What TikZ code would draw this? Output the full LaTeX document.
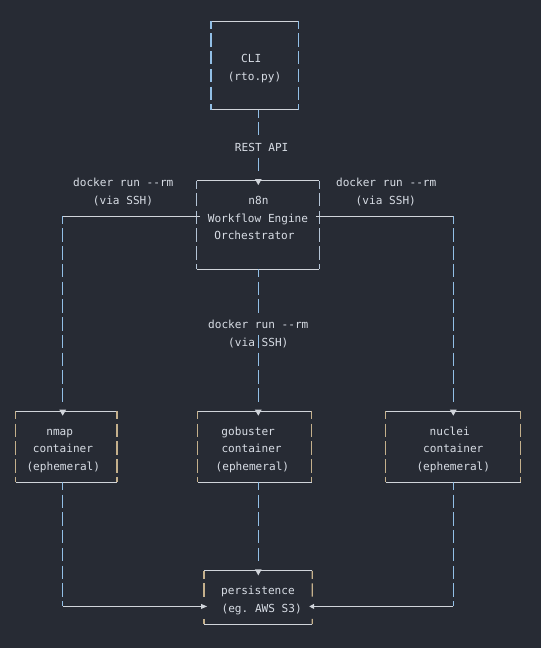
\documentclass[tikz,border=0pt]{standalone}
\usepackage{fontspec}
\setmonofont{DejaVu Sans Mono}
\usetikzlibrary{fit}
\definecolor{bgc}{HTML}{272B34}
\definecolor{tcol}{HTML}{D8DDE5}
\definecolor{hcol}{HTML}{D0D4DA}
\definecolor{vblue}{HTML}{92BFE6}
\definecolor{vgold}{HTML}{C4B08C}
\definecolor{vgrey}{HTML}{B4C4D6}
\newcommand{\RY}[1]{(21+17.74*(#1))}
\newcommand{\downtip}[2]{\fill[tipf] ({#1-3.4},{\RY{#2}-1.6}) -- ({#1+3.4},{\RY{#2}-1.6}) -- ({#1},{\RY{#2}+4.4}) -- cycle;}
\newcommand{\asciibox}[6]{%
  \path (#2,{\RY{#4}}) coordinate (#1nw) (#3,{\RY{#5}}) coordinate (#1se);
  \node[boxn,fit=(#1nw)(#1se)] (#1) {};
  \draw[hline] (#1.north west) -- (#1.north east);
  \draw[hline] (#1.south west) -- (#1.south east);
  \draw[vside=#6] (#1.north west) -- (#1.south west);
  \draw[vside=#6] (#1.north east) -- (#1.south east);
}
\begin{document}
\begin{tikzpicture}[x=1pt,y=-1pt,
  hline/.style={draw=hcol,line width=1pt},
  vside/.style={draw=#1,line width=1.3pt,dash pattern=on 13.4pt off 4.34pt,dash phase=5.4pt},
  vside/.default=vblue,
  tipf/.style={fill=hcol,draw=none},
  txt/.style={text=tcol,font=\ttfamily\fontsize{11.1}{13}\selectfont,anchor=base,inner sep=0pt},
  lbl/.style={txt,fill=bgc,inner ysep=4pt,inner xsep=1pt,text height=8pt,text depth=0pt},
  boxn/.style={inner sep=0pt,outer sep=0pt,draw=none}]
\fill[bgc] (0,0) rectangle (541,648);
\useasboundingbox (0,0) rectangle (541,648);

% columns
\coordinate (colL) at (62.7,0);
\coordinate (colC) at (258.3,0);
\coordinate (colR) at (453.3,0);

% boxes
\asciibox{cli}{211}{298.7}{0}{5}{vblue}
\asciibox{neight}{196.7}{319.3}{9}{14}{vgrey}
\asciibox{nmap}{15.7}{117}{22}{26}{vgold}
\asciibox{gob}{197.7}{311.7}{22}{26}{vgold}
\asciibox{nuc}{385.7}{520.7}{22}{26}{vgold}

% persistence box (sides interrupted by arrows)
\path (204,{\RY{31}}) coordinate (persnw) (312.3,{\RY{34}}) coordinate (persse);
\node[boxn,fit=(persnw)(persse)] (pers) {};
\draw[hline] (pers.north west) -- (pers.north east);
\draw[hline] (pers.south west) -- (pers.south east);
\draw[vside=vgold] (pers.north west) -- (204,{\RY{32}+8});
\draw[vside=vgold] (pers.north east) -- (312.3,{\RY{32}+8});
\draw[draw=vgold,line width=1.3pt] (204,{\RY{34}-5.4}) -- (pers.south west);
\draw[draw=vgold,line width=1.3pt] (312.3,{\RY{34}-5.4}) -- (pers.south east);

% junction coordinates
\coordinate (jl) at (62.7,{\RY{11}});
\coordinate (jr) at (453.3,{\RY{11}});
\coordinate (bl) at (62.7,{\RY{33}});
\coordinate (br) at (453.3,{\RY{33}});
\coordinate (pl) at (201,{\RY{33}});
\coordinate (pr) at (314,{\RY{33}});

% CLI -> n8n
\draw[vside=vblue,shorten >=9.74pt] (cli.south -| colC) -- (neight.north -| colC);
\downtip{258.3}{9}
% n8n -> gobuster
\draw[vside=vblue,shorten >=9.74pt] (neight.south -| colC) -- (gob.north -| colC);
\downtip{258.3}{22}
% n8n -> nmap
\draw[hline] ([xshift=3.4pt]neight.west |- jl) -- (jl);
\draw[vside=vblue,shorten >=9.74pt] (jl) -- (nmap.north -| colL);
\downtip{62.7}{22}
% n8n -> nuclei
\draw[hline] ([xshift=-3.4pt]neight.east |- jr) -- (jr);
\draw[vside=vblue,shorten >=9.74pt] (jr) -- (nuc.north -| colR);
\downtip{453.3}{22}
% gobuster -> persistence
\draw[vside=vblue,shorten >=9.74pt] (gob.south -| colC) -- (pers.north -| colC);
\downtip{258.3}{31}
% nmap -> persistence
\draw[vside=vblue] (nmap.south -| colL) -- (bl);
\draw[hline] (bl) -- (pl);
\fill[tipf] (201,{\RY{33}-2.6}) -- (207,{\RY{33}}) -- (201,{\RY{33}+2.6}) -- cycle;
% nuclei -> persistence
\draw[vside=vblue] (nuc.south -| colR) -- (br);
\draw[hline] (br) -- (pr);
\fill[tipf] (314,{\RY{33}-2.6}) -- (309.3,{\RY{33}}) -- (314,{\RY{33}+2.6}) -- cycle;

% texts
\node[txt] (tcli1) at (251.2,{\RY{2}+6}) {CLI};
\node[txt] (tcli2) at (254.5,{\RY{3}+6}) {(rto.py)};
\node[lbl] (rest) at (261.7,{\RY{7}+6}) {REST API};
\node[txt] (tn1) at (258.5,{\RY{10}+6}) {n8n};
\node[txt] (tn2) at (258,{\RY{11}+6}) {Workflow Engine};
\node[txt] (tn3) at (254.5,{\RY{12}+6}) {Orchestrator};
\node[txt] (dl1) at (123.3,{\RY{9}+6}) {docker run -{}-rm};
\node[txt] (dl2) at (123,{\RY{10}+6}) {(via SSH)};
\node[txt] (dr1) at (386.2,{\RY{9}+6}) {docker run -{}-rm};
\node[txt] (dr2) at (385.8,{\RY{10}+6}) {(via SSH)};
\node[lbl] (dm1) at (258.3,{\RY{17}+6}) {docker run -{}-rm};
\node[txt] (dm2) at (258.3,{\RY{18}+6}) {(via SSH)};
\node[txt] (tm1) at (59.7,{\RY{23}+6}) {nmap};
\node[txt] (tm2) at (63,{\RY{24}+6}) {container};
\node[txt] (tm3) at (63.3,{\RY{25}+6}) {(ephemeral)};
\node[txt] (tg1) at (248.2,{\RY{23}+6}) {gobuster};
\node[txt] (tg2) at (251.6,{\RY{24}+6}) {container};
\node[txt] (tg3) at (252.4,{\RY{25}+6}) {(ephemeral)};
\node[txt] (tu1) at (449.7,{\RY{23}+6}) {nuclei};
\node[txt] (tu2) at (453.3,{\RY{24}+6}) {container};
\node[txt] (tu3) at (453.3,{\RY{25}+6}) {(ephemeral)};
\node[txt] (tp1) at (258,{\RY{32}+6}) {persistence};
\node[txt] (tp2) at (261.7,{\RY{33}+6}) {(eg. AWS S3)};
\end{tikzpicture}
\end{document}
